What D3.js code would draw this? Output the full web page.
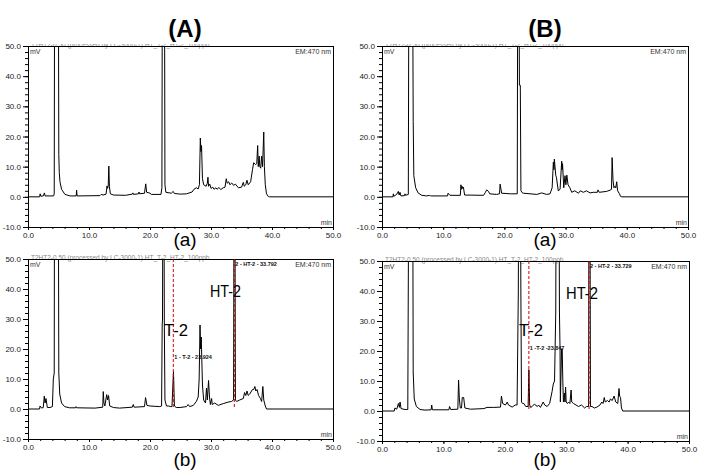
<!DOCTYPE html>
<html>
<head>
<meta charset="utf-8">
<script src="https://cdn.jsdelivr.net/npm/d3@7"></script>
<style>
  body { margin: 0; background: #fff; }
  svg { display: block; }
  .tick text { font-family: "Liberation Sans", Arial, sans-serif; font-size: 8px; fill: #222; }
</style>
</head>
<body>
<svg id="chart" width="702" height="476"></svg>
<script>
// retention time (min), signal (mV)
// values above 50 are off-scale peaks, clipped by the plot box
const traceAa = [[0,0],[1.9,0],[2.0,1.0],[2.1,0.2],[2.5,0.3],[2.7,1.3],[2.8,0.3],[4.2,0.3],[4.3,1],[4.38,100],[4.95,100],[5.05,14],[5.13,8],[5.24,5],[5.5,2.5],[6.06,0.8],[6.9,0.3],[7.9,0.3],[7.97,2.2],[8.05,0.3],[11.8,0.4],[12.0,0.8],[12.3,0.6],[12.8,0.9],[12.95,3.6],[13.05,2.8],[13.15,3.5],[13.25,10.2],[13.35,3.3],[13.5,1],[14,0.6],[16,0.5],[17.1,0.9],[17.2,1.3],[17.3,0.8],[18.1,1],[18.2,1.6],[18.3,1],[19.1,1.2],[19.3,4.3],[19.45,1.5],[20,1.2],[20.2,0.8],[21.8,0.8],[21.95,3],[22.05,100],[22.35,100],[22.45,4],[22.6,1.5],[23.5,1.2],[23.8,1.8],[24.0,1.1],[25,0.9],[26,1.0],[26.9,1.6],[27.2,2.5],[27.6,3],[27.9,2.6],[28.1,4],[28.25,19.5],[28.35,15],[28.45,17],[28.6,6],[28.8,4],[29.2,3.5],[29.4,4.5],[29.5,6.5],[29.6,3.5],[29.8,4.2],[30.0,2.8],[30.3,3.2],[30.5,2.5],[30.8,3],[31,2.5],[31.3,3.1],[31.6,2.4],[32,3],[32.3,3.2],[32.5,6],[32.65,4.5],[32.9,5],[33.1,4],[33.4,4.6],[33.7,3.8],[34.0,4.2],[34.5,3],[35.0,3.2],[35.3,4.8],[35.45,3.5],[35.7,4],[35.9,5.5],[36.1,4],[36.5,5],[36.8,9],[37.0,11.3],[37.3,10.7],[37.5,11],[37.65,17],[37.75,10],[37.9,13.5],[38.0,10],[38.15,9.5],[38.3,13.5],[38.45,10],[38.65,21.5],[38.75,10],[38.9,4],[39.1,1],[39.4,0.1],[39.6,0],[50,0]]

const traceBa = [[0,0],[1.8,0],[1.85,1],[1.95,0.2],[2.4,0.8],[2.67,1.8],[2.8,0.6],[2.94,1.5],[3.1,0.3],[3.7,0.4],[3.76,1],[3.85,0.5],[4.3,0.8],[4.42,100],[4.95,100],[5.1,25],[5.2,7],[5.5,3],[5.9,1.3],[6.5,0.5],[7.3,0.3],[7.8,0.5],[7.9,0.3],[10.7,0.3],[10.8,1.2],[11.1,0.5],[12.8,0.5],[12.9,4],[13.0,2.5],[13.07,3.5],[13.2,2.8],[13.3,3.2],[13.5,0.6],[16.6,0.5],[16.9,1.5],[17.1,2.3],[17.4,1.8],[17.6,1],[18.7,0.8],[19.2,1],[19.3,4.2],[19.55,1.2],[21,1],[22.1,1],[22.2,100],[22.35,100],[22.45,37],[22.6,37],[22.7,2],[23,1.2],[23.1,1.2],[25.3,0.8],[26.1,1.3],[26.9,0.8],[27.45,1],[27.8,3],[28.0,11.5],[28.1,9],[28.16,12.5],[28.4,7],[28.5,6.5],[28.8,2],[29.1,2.5],[29.36,11.8],[29.45,9],[29.5,11],[29.7,3],[29.9,7],[30.05,4],[30.2,7.2],[30.4,4],[30.7,3],[31.0,1.5],[31.5,2],[32.1,1.2],[32.4,2],[32.9,1.5],[33.4,2],[34,1.3],[34.5,1.5],[35.2,1.5],[35.3,2.3],[35.5,1.5],[36.7,1.8],[37.25,2.2],[37.5,2.5],[37.6,13],[37.75,5.5],[37.9,3],[38.07,3.5],[38.2,3],[38.35,5],[38.5,2],[38.8,1],[39.0,0.1],[39.2,0],[50,0]]

const traceAb = [[0,0],[1.9,0],[1.97,1],[2.24,0.3],[2.5,0.5],[2.67,4.3],[2.8,2],[2.95,3.5],[3.17,0.5],[3.6,0.5],[4.0,0.8],[4.15,10],[4.3,12],[4.36,100],[4.95,100],[5.05,12],[5.2,5],[5.5,2],[6,0.8],[6.8,0.4],[7.8,0.4],[7.86,0.8],[8.0,0.4],[11,0.3],[12.25,0.6],[12.34,5.8],[12.45,2],[12.6,1],[12.9,4.8],[13.05,3],[13.2,4.5],[13.4,1],[14,0.5],[15,0.3],[17.1,0.6],[17.25,1.5],[17.4,0.6],[19.1,0.8],[19.27,3.8],[19.5,1.2],[20,1],[21.6,0.8],[21.9,1],[22.0,28],[22.05,30],[22.15,100],[22.25,100],[22.35,28],[22.45,3],[22.7,1],[23,1],[23.4,0.8],[23.6,0.8],[23.85,12.5],[24.0,1],[24.3,0.5],[24.9,0.5],[26,0.8],[26.25,1.5],[26.5,0.8],[27.1,1.2],[27.6,2.5],[27.9,4],[28.06,10],[28.2,28],[28.3,20],[28.4,24],[28.6,8],[28.8,3],[29.1,2],[29.26,7],[29.4,3],[29.6,9.5],[29.75,4],[29.9,1.5],[30.1,3.5],[30.2,1.5],[30.6,2],[31.2,1.2],[32,1.8],[32.8,2.3],[33.35,2.5],[33.7,3],[33.8,100],[33.9,100],[34.0,3],[34.2,2.5],[34.7,3],[35.3,3.5],[35.5,5.5],[35.7,4.5],[35.9,6],[36.1,4.5],[36.35,5],[36.8,6.5],[37.0,6.5],[37.2,7.5],[37.35,6],[37.55,6.5],[37.8,4.5],[38.1,3.5],[38.3,2.5],[38.5,7.5],[38.65,3],[38.9,1],[39.1,0],[50,0]]

const traceBb = [[0,0],[2.0,0],[2.1,1],[2.4,0.6],[2.67,2.5],[2.83,1.2],[2.94,3],[3.1,0.8],[3.76,0.5],[4.2,0.5],[4.4,100],[4.98,100],[5.08,13],[5.25,4],[5.6,1.5],[6.2,0.5],[7,0.3],[8.0,0.4],[8.1,2],[8.2,0.4],[10.9,0.4],[11,1.5],[11.2,0.5],[12.35,0.6],[12.47,10.3],[12.6,4],[12.75,1],[12.95,1],[13.07,4.5],[13.3,4.5],[13.5,1],[14.4,0.6],[16.6,0.8],[17.1,1.2],[18.2,1.2],[19.3,1.3],[19.45,5],[19.65,2.5],[20.1,2],[20.4,3],[20.6,2],[21.2,1.3],[21.7,2],[22.0,2],[22.2,39],[22.3,100],[22.5,100],[22.62,39],[22.72,3],[22.9,2.5],[23.1,2.5],[23.4,1.5],[23.8,1.5],[23.92,13.8],[24.05,2],[24.2,1.2],[24.45,1.5],[24.8,2.3],[25.3,1.5],[25.5,2],[25.8,1.2],[26.25,3],[26.5,2],[26.9,1.5],[27.3,2.5],[27.7,6.5],[27.9,9],[28.1,10],[28.3,33],[28.4,100],[28.8,100],[28.9,33],[29.0,20],[29.05,3],[29.25,20.7],[29.35,20.7],[29.45,10],[29.55,3],[29.7,6],[29.8,3],[29.9,8],[30,3],[30.2,2.5],[30.4,3],[30.6,2.5],[30.8,7],[30.9,3],[31.2,2.5],[31.6,2],[32,1.5],[32.5,2],[33,1],[33.3,1.5],[33.65,1.5],[33.72,100],[33.85,100],[33.95,1.5],[34.2,1.5],[34.6,1],[35,1.3],[35.5,2],[35.8,3],[36,2.5],[36.2,4.5],[36.35,3],[36.7,3.5],[37,3],[37.2,4],[37.5,3.5],[37.8,5],[38.07,3],[38.4,2.5],[38.6,7.5],[38.7,5],[38.85,4.5],[39.0,1],[39.2,0],[50,0]]

const xTicks = [0, 10, 20, 30, 40, 50]
const yTicks = [-10, 0, 10, 20, 30, 40, 50]
const panelTitles = ['(A)', '(B)']
const subTitles = ['(a)', '(b)']

// identified peaks in the spiked samples: [name, retention time, result label]
const peaksAb = [['T-2', 23.82, '1 - T-2 - 23.924'], ['HT-2', 33.82, '2 - HT-2 - 33.792']]
const peaksBb = [['T-2', 23.92, '1 -T-2 -23.847'], ['HT-2', 33.72, '2 - HT-2 - 33.729']]

const svg = d3.select('#chart')
const font = '"Liberation Sans", Arial, sans-serif'

function drawPanel(id, box, trace, peaks, cut, labelPos)
{
    let x = d3.scaleLinear().domain([0, 50]).range([box.left, box.right])
    let y = d3.scaleLinear().domain([-10, 50]).range([box.bottom, box.top])

    // whole panel is cropped a few pixels above the frame, like the scanned figure
    svg.append('clipPath').attr('id', 'crop' + id)
        .append('rect')
        .attr('x', 0).attr('y', box.top - cut)
        .attr('width', 702).attr('height', 476)
    svg.append('clipPath').attr('id', 'plot' + id)
        .append('rect')
        .attr('x', box.left).attr('y', box.top)
        .attr('width', box.right - box.left).attr('height', box.bottom - box.top)

    let g = svg.append('g').attr('clip-path', 'url(#crop' + id + ')')

    // faint header text of the instrument printout, mostly cut off
    g.append('text')
        .attr('x', box.left + 3).attr('y', box.top + 0.5)
        .attr('font-family', font).attr('font-size', 6.5).attr('fill', '#888')
        .text('T2HT2-0.50 (processed by LC-3000-1)  HT_T-2_HT-2_100ppb')

    // minor ticks
    g.append('g')
        .attr('transform', 'translate(' + box.left + ',0)')
        .call(d3.axisLeft(y).tickValues(d3.range(-10, 51, 2)).tickSize(3).tickFormat(''))
    g.append('g')
        .attr('transform', 'translate(0,' + box.bottom + ')')
        .call(d3.axisBottom(x).tickValues(d3.range(0, 51, 2)).tickSize(2).tickFormat(''))

    g.append('g')
        .attr('transform', 'translate(' + box.left + ',0)')
        .call(d3.axisLeft(y).tickValues(yTicks).tickSize(5).tickPadding(2).tickFormat(d => d.toFixed(1)))
    g.append('g')
        .attr('transform', 'translate(0,' + box.bottom + ')')
        .call(d3.axisBottom(x).tickValues(xTicks).tickSize(3).tickPadding(2).tickFormat(d => d.toFixed(1)))

    g.selectAll('.domain').attr('stroke', '#000')
    g.selectAll('.tick line').attr('stroke', '#000')

    // frame
    g.append('rect')
        .attr('x', box.left + 0.5).attr('y', box.top + 0.5)
        .attr('width', box.right - box.left).attr('height', box.bottom - box.top)
        .attr('fill', 'none').attr('stroke', '#000')

    g.append('text')
        .attr('x', box.left + 2).attr('y', box.top + 7.5)
        .attr('font-family', font).attr('font-size', 7).attr('fill', '#333')
        .text('mV')
    g.append('text')
        .attr('x', box.right - 2).attr('y', box.top + 7.5)
        .attr('text-anchor', 'end')
        .attr('font-family', font).attr('font-size', 7).attr('fill', '#333')
        .text('EM:470 nm')
    g.append('text')
        .attr('x', box.right - 1).attr('y', box.bottom - 2)
        .attr('text-anchor', 'end')
        .attr('font-family', font).attr('font-size', 7).attr('fill', '#333')
        .text('min')

    let line = d3.line()
        .x(d => x(d[0]))
        .y(d => y(d[1]))

    let plot = g.append('g').attr('clip-path', 'url(#plot' + id + ')')

    plot.append('path')
        .datum(trace)
        .attr('d', line)
        .attr('fill', 'none')
        .attr('stroke', '#000')
        .attr('stroke-width', 1)

    if (!peaks) return

    // integration marks of the identified peaks
    plot.selectAll('line.peak')
        .data(peaks)
        .enter()
        .append('line')
        .attr('class', 'peak')
        .attr('x1', d => x(d[1])).attr('x2', d => x(d[1]))
        .attr('y1', box.top).attr('y2', y(0.5))
        .attr('stroke', '#d40000')
        .attr('stroke-width', 1)
        .attr('stroke-dasharray', '3,2')

    g.selectAll('text.result')
        .data(peaks)
        .enter()
        .append('text')
        .attr('class', 'result')
        .attr('x', d => x(d[1]) + 1)
        .attr('y', (d, i) => labelPos[i].ry)
        .attr('font-family', font).attr('font-size', 5.5).attr('font-weight', 'bold').attr('fill', '#111')
        .text(d => d[2])

    g.selectAll('text.name')
        .data(peaks)
        .enter()
        .append('text')
        .attr('class', 'name')
        .attr('x', (d, i) => labelPos[i].nx)
        .attr('y', (d, i) => labelPos[i].ny)
        .attr('font-family', font).attr('font-size', 17).attr('fill', '#000')
        .attr('textLength', (d, i) => labelPos[i].len)
        .attr('lengthAdjust', 'spacingAndGlyphs')
        .text(d => d[0])
}

drawPanel('Aa', {left: 28, right: 333, top: 46, bottom: 227}, traceAa, null, 2)
drawPanel('Ba', {left: 382, right: 688, top: 46, bottom: 227}, traceBa, null, 2)
drawPanel('Ab', {left: 28, right: 333, top: 259, bottom: 439}, traceAb, peaksAb, 4,
    [{ry: 359, nx: 164, ny: 336, len: 24}, {ry: 266, nx: 210, ny: 297, len: 31}])
drawPanel('Bb', {left: 382, right: 689, top: 261, bottom: 441}, traceBb, peaksBb, 4,
    [{ry: 350, nx: 519, ny: 336, len: 24}, {ry: 268, nx: 566, ny: 299, len: 32}])

svg.selectAll('text.title')
    .data(panelTitles)
    .enter()
    .append('text')
    .attr('x', (d, i) => [185, 545][i])
    .attr('y', 37)
    .attr('text-anchor', 'middle')
    .attr('font-family', font).attr('font-size', 24).attr('font-weight', 'bold')
    .text(d => d)

let subs = []
subTitles.forEach((s, r) => [185, 545].forEach(cx => subs.push({s: s, cx: cx, y: [246, 466][r]})))

svg.selectAll('text.sub')
    .data(subs)
    .enter()
    .append('text')
    .attr('x', d => d.cx)
    .attr('y', d => d.y)
    .attr('text-anchor', 'middle')
    .attr('font-family', font).attr('font-size', 19)
    .text(d => d.s)
</script>
</body>
</html>
